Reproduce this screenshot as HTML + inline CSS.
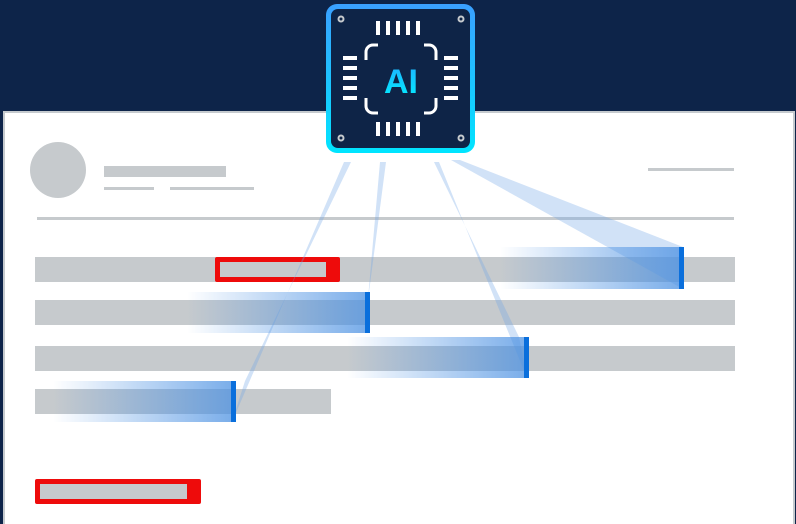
<!DOCTYPE html>
<html><head><meta charset="utf-8"><style>
html,body{margin:0;padding:0;width:796px;height:524px;overflow:hidden;background:#0d2449;font-family:"Liberation Sans",sans-serif}
</style></head><body>
<svg width="796" height="524" viewBox="0 0 796 524" xmlns="http://www.w3.org/2000/svg" style="position:absolute;left:0;top:0">
<defs>
<linearGradient id="hl" x1="0" x2="1" y1="0" y2="0">
<stop offset="0" stop-color="#4a90e2" stop-opacity="0"/>
<stop offset="1" stop-color="#4a90e2" stop-opacity="0.75"/>
</linearGradient>
<linearGradient id="cb" x1="0" x2="0" y1="0" y2="1">
<stop offset="0" stop-color="#3aa0ff"/>
<stop offset="1" stop-color="#00e5ff"/>
</linearGradient>
<linearGradient id="ai" x1="0" x2="0" y1="0" y2="1">
<stop offset="0" stop-color="#1fb0ff"/>
<stop offset="1" stop-color="#00f0ff"/>
</linearGradient>
</defs>
<rect x="0" y="0" width="796" height="524" fill="#0d2449"/>
<rect x="4" y="112" width="790" height="420" fill="#ffffff" stroke="#c5cace" stroke-width="2"/>
<circle cx="58" cy="170" r="28" fill="#c6cacd"/>
<rect x="104" y="166" width="122" height="11" fill="#c6cacd"/>
<rect x="104" y="187" width="50" height="3" fill="#c6cacd"/>
<rect x="170" y="187" width="84" height="3" fill="#c6cacd"/>
<rect x="648" y="168" width="86" height="3" fill="#c6cacd"/>
<rect x="37" y="217" width="697" height="3" fill="#c6cacd"/>
<rect x="35" y="257" width="700" height="25" fill="#c6cacd"/>
<rect x="35" y="300" width="700" height="25" fill="#c6cacd"/>
<rect x="35" y="346" width="700" height="25" fill="#c6cacd"/>
<rect x="35" y="389" width="296" height="25" fill="#c6cacd"/>
<rect x="215" y="257" width="125" height="25" rx="2" fill="#ee0b0b"/>
<rect x="220" y="262" width="106" height="15" fill="#c6cacd"/>
<rect x="35" y="479" width="166" height="25" rx="2" fill="#ee0b0b"/>
<rect x="40" y="484" width="147" height="15" fill="#c6cacd"/>
<g fill="#6fa4e6" fill-opacity="0.32">
<polygon points="451,160 460,160 683,247 683,289"/>
<polygon points="380,162 386,162 369,292 365,333"/>
<polygon points="434,162 439,162 527,378 519,337"/>
<polygon points="344,162 351,162 245,381 232,422"/>
</g>
<rect x="500" y="247" width="183" height="42" fill="url(#hl)"/>
<rect x="679" y="247" width="5" height="42" fill="#0a6fdc"/>
<rect x="187" y="292" width="182" height="41" fill="url(#hl)"/>
<rect x="365" y="292" width="5" height="41" fill="#0a6fdc"/>
<rect x="347" y="337" width="182" height="41" fill="url(#hl)"/>
<rect x="524" y="337" width="5" height="41" fill="#0a6fdc"/>
<rect x="53" y="381" width="183" height="41" fill="url(#hl)"/>
<rect x="231" y="381" width="5" height="41" fill="#0a6fdc"/>
<rect x="326" y="4" width="149" height="149" rx="11" fill="url(#cb)"/>
<rect x="331" y="9" width="139" height="139" rx="7" fill="#0e2447"/>
<g fill="none" stroke="#c6cacd" stroke-width="2">
<circle cx="341" cy="19" r="2.5"/><circle cx="461" cy="19" r="2.5"/>
<circle cx="341" cy="138" r="2.5"/><circle cx="461" cy="138" r="2.5"/>
</g>
<rect x="366" y="45" width="70" height="68" rx="7" fill="none" stroke="#ffffff" stroke-width="3"/>
<rect x="378" y="41" width="46" height="8" fill="#0e2447"/>
<rect x="378" y="109" width="46" height="8" fill="#0e2447"/>
<rect x="362" y="60" width="8" height="38" fill="#0e2447"/>
<rect x="432" y="60" width="8" height="38" fill="#0e2447"/>
<g fill="#ffffff">
<rect x="376" y="21" width="4" height="14"/><rect x="386" y="21" width="4" height="14"/><rect x="396" y="21" width="4" height="14"/><rect x="406" y="21" width="4" height="14"/><rect x="416" y="21" width="4" height="14"/>
<rect x="376" y="122" width="4" height="14"/><rect x="386" y="122" width="4" height="14"/><rect x="396" y="122" width="4" height="14"/><rect x="406" y="122" width="4" height="14"/><rect x="416" y="122" width="4" height="14"/>
<rect x="343" y="56" width="14" height="4"/><rect x="343" y="66" width="14" height="4"/><rect x="343" y="76" width="14" height="4"/><rect x="343" y="86" width="14" height="4"/><rect x="343" y="96" width="14" height="4"/>
<rect x="444" y="56" width="14" height="4"/><rect x="444" y="66" width="14" height="4"/><rect x="444" y="76" width="14" height="4"/><rect x="444" y="86" width="14" height="4"/><rect x="444" y="96" width="14" height="4"/>
</g>
<text x="401" y="93" text-anchor="middle" font-family="Liberation Sans, sans-serif" font-weight="bold" font-size="34" fill="url(#ai)">AI</text>
</svg>
</body></html>
